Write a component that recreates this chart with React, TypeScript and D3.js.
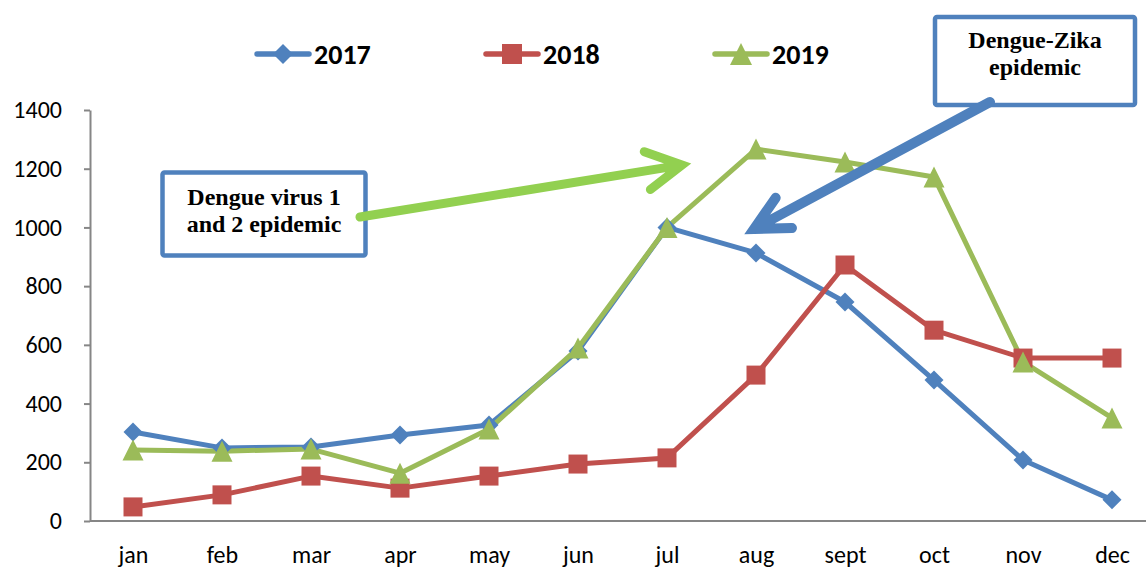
import React, { useEffect, useRef } from "react";
import * as d3 from "d3";

const months = ["jan", "feb", "mar", "apr", "may", "jun", "jul", "aug", "sept", "oct", "nov", "dec"];
const cases2017 = [303, 249, 252, 293, 327, 579, 1000, 913, 746, 480, 208, 72];
const cases2018 = [48, 89, 153, 112, 153, 194, 215, 497, 872, 650, 555, 555];
const cases2019 = [242, 238, 245, 163, 313, 589, 1000, 1267, 1223, 1172, 542, 351];
const yTicks = [0, 200, 400, 600, 800, 1000, 1200, 1400];

const series = [
  { name: "2017", values: cases2017, color: "#4f81bd", marker: "diamond" },
  { name: "2018", values: cases2018, color: "#c0504d", marker: "square" },
  { name: "2019", values: cases2019, color: "#9bbb59", marker: "triangle" },
];

const W = 1146;
const H = 569;

function markerPath(kind: string, s: number) {
  if (kind === "diamond") return `M0,${-s / 2}L${s / 2},0L0,${s / 2}L${-s / 2},0Z`;
  if (kind === "square") return `M${-s / 2},${-s / 2}h${s}v${s}h${-s}Z`;
  const h = s * 1.0;
  return `M0,${-h / 2}L${s / 2},${h / 2}L${-s / 2},${h / 2}Z`;
}

export default function App() {
  const svgRef = useRef<SVGSVGElement | null>(null);

  useEffect(() => {
    const svg = d3.select(svgRef.current);
    svg.selectAll("*").remove();

    const x = d3.scalePoint<string>().domain(months).range([88.5, 1156.5]).padding(0.5);
    const y = d3.scaleLinear().domain([0, 1400]).range([521, 110]);
    const sans = "Carlito, Lato, 'Open Sans', sans-serif";

    svg.append("rect").attr("width", W).attr("height", H).attr("fill", "#fff");

    // === Y axis ===
    const gy = svg.append("g")
      .attr("transform", "translate(90,0)")
      .call(d3.axisLeft(y).tickValues(yTicks).tickFormat(d3.format("d")).tickSize(6).tickSizeOuter(0).tickPadding(22));
    gy.select(".domain").attr("stroke", "#868686").attr("stroke-width", 2);
    gy.selectAll(".tick line").attr("stroke", "#868686").attr("stroke-width", 2);
    gy.selectAll("text")
      .attr("fill", "#000")
      .style("font-family", sans)
      .style("font-size", "24px");

    // === X axis ===
    const gx = svg.append("g")
      .attr("transform", "translate(0,521)")
      .call(d3.axisBottom(x).tickSize(0).tickPadding(25));
    gx.select(".domain").attr("stroke", "#868686").attr("stroke-width", 2)
      .attr("d", "M90,0H1160");
    gx.selectAll("text")
      .attr("fill", "#000")
      .style("font-family", sans)
      .style("font-size", "24px");

    // === Lines and markers ===
    const lineGen = d3.line<number>()
      .x((_, i) => x(months[i]) as number)
      .y((d) => y(d));

    series.forEach((s) => {
      svg.append("path")
        .datum(s.values)
        .attr("fill", "none")
        .attr("stroke", s.color)
        .attr("stroke-width", 5)
        .attr("stroke-linejoin", "round")
        .attr("d", lineGen);
    });
    series.forEach((s) => {
      svg.append("g")
        .selectAll("path")
        .data(s.values)
        .enter()
        .append("path")
        .attr("transform", (d, i) => `translate(${x(months[i])},${y(d)})`)
        .attr("d", markerPath(s.marker, s.marker === "triangle" ? 21 : 19))
        .attr("fill", s.color);
    });

    // === Legend ===
    const legendX = [255, 484, 713];
    series.forEach((s, i) => {
      const g = svg.append("g").attr("transform", `translate(${legendX[i]},54)`);
      g.append("line").attr("x1", 2).attr("x2", 54).attr("y1", 0).attr("y2", 0)
        .attr("stroke", s.color).attr("stroke-width", 5.5).attr("stroke-linecap", "round");
      g.append("path").attr("transform", "translate(28,0)")
        .attr("d", markerPath(s.marker, s.marker === "triangle" ? 22 : 20))
        .attr("fill", s.color);
      g.append("text")
        .attr("x", 59).attr("y", 10)
        .attr("fill", "#000")
        .attr("font-weight", "bold")
        .style("font-family", sans)
        .style("font-size", "28px")
        .text(s.name);
    });

    // === Annotation boxes ===
    const serif = "'Liberation Serif', 'DejaVu Serif', serif";
    const box = (x0: number, y0: number, x1: number, y1: number, lines: string[], base: number) => {
      svg.append("rect")
        .attr("x", x0).attr("y", y0).attr("width", x1 - x0).attr("height", y1 - y0)
        .attr("fill", "#fff").attr("stroke", "#4f81bd").attr("stroke-width", 4.5).attr("rx", 2);
      lines.forEach((t, i) => {
        svg.append("text")
          .attr("x", (x0 + x1) / 2).attr("y", base + i * 27)
          .attr("text-anchor", "middle")
          .attr("font-weight", "bold")
          .style("font-family", serif)
          .style("font-size", "24px")
          .attr("fill", "#000")
          .text(t);
      });
    };
    box(162.5, 172.5, 365.5, 255.5, ["Dengue virus 1", "and 2 epidemic"], 205);
    box(935, 17, 1135, 105, ["Dengue-Zika", "epidemic"], 48);

    // === Arrows ===
    const arrow = (x0: number, y0: number, x1: number, y1: number, color: string, w: number, spread: number, len: number) => {
      const back = Math.atan2(y0 - y1, x0 - x1);
      const a1 = back + spread, a2 = back - spread;
      const p = d3.path();
      p.moveTo(x0, y0);
      p.lineTo(x1 + 4 * Math.cos(back), y1 + 4 * Math.sin(back));
      p.moveTo(x1 + len * Math.cos(a1), y1 + len * Math.sin(a1));
      p.lineTo(x1, y1);
      p.lineTo(x1 + len * Math.cos(a2), y1 + len * Math.sin(a2));
      svg.append("path")
        .attr("d", p.toString())
        .attr("fill", "none")
        .attr("stroke", color)
        .attr("stroke-width", w)
        .attr("stroke-linecap", "round")
        .attr("stroke-linejoin", "miter")
        .attr("stroke-miterlimit", 10);
    };
    arrow(360, 217, 682, 165, "#92d050", 9, 0.5, 40);
    arrow(990, 102, 754, 229, "#4f81bd", 10, 0.47, 38);
  }, []);

  return (
    <svg ref={svgRef} width={W} height={H}
      style={{ position: "absolute", left: 0, top: 0, display: "block" }} />
  );
}
